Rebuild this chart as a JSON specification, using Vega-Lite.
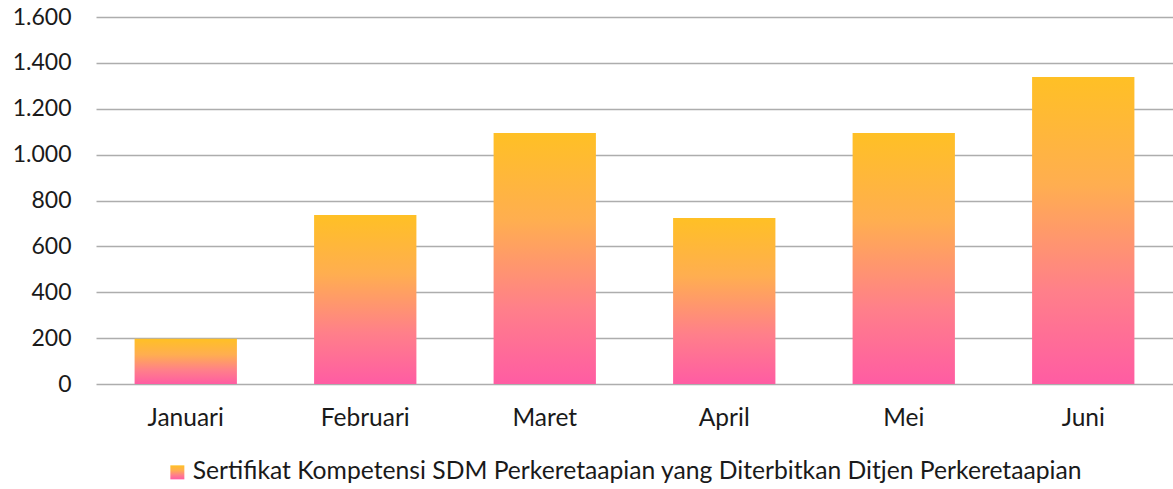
{
  "$schema": "https://vega.github.io/schema/vega-lite/v6.json",
  "width": 1077,
  "height": 367,
  "autosize": {"type": "none"},
  "padding": {"left": 96, "top": 17, "right": 0, "bottom": 105},
  "background": "white",
  "data": {
    "values": [
      {"bulan": "Januari", "jumlah": 197, "seri": "Sertifikat Kompetensi SDM Perkeretaapian yang Diterbitkan Ditjen Perkeretaapian"},
      {"bulan": "Februari", "jumlah": 737, "seri": "Sertifikat Kompetensi SDM Perkeretaapian yang Diterbitkan Ditjen Perkeretaapian"},
      {"bulan": "Maret", "jumlah": 1094, "seri": "Sertifikat Kompetensi SDM Perkeretaapian yang Diterbitkan Ditjen Perkeretaapian"},
      {"bulan": "April", "jumlah": 724, "seri": "Sertifikat Kompetensi SDM Perkeretaapian yang Diterbitkan Ditjen Perkeretaapian"},
      {"bulan": "Mei", "jumlah": 1094, "seri": "Sertifikat Kompetensi SDM Perkeretaapian yang Diterbitkan Ditjen Perkeretaapian"},
      {"bulan": "Juni", "jumlah": 1338, "seri": "Sertifikat Kompetensi SDM Perkeretaapian yang Diterbitkan Ditjen Perkeretaapian"}
    ]
  },
  "mark": {
    "type": "bar",
    "color": {
      "gradient": "linear",
      "x1": 0, "y1": 0, "x2": 0, "y2": 1,
      "stops": [
        {"offset": 0, "color": "#FFC025"},
        {"offset": 0.35, "color": "#FFAE50"},
        {"offset": 0.7, "color": "#FF7F8A"},
        {"offset": 1, "color": "#FF5CA3"}
      ]
    }
  },
  "encoding": {
    "x": {
      "field": "bulan",
      "type": "nominal",
      "sort": null,
      "title": null,
      "scale": {"paddingInner": 0.43, "paddingOuter": 0.215},
      "axis": {
        "domain": false,
        "ticks": false,
        "labelAngle": 0,
        "labelFont": "Lato",
        "labelFontSize": 24.5,
        "labelColor": "#1a1a1a",
        "labelPadding": 34,
        "labelBaseline": "middle"
      }
    },
    "y": {
      "field": "jumlah",
      "type": "quantitative",
      "title": null,
      "scale": {"domain": [0, 1600], "nice": false},
      "axis": {
        "values": [0, 200, 400, 600, 800, 1000, 1200, 1400, 1600],
        "labelExpr": "replace(format(datum.value, ','), ',', '.')",
        "domain": false,
        "ticks": false,
        "grid": true,
        "gridColor": "#ADADAD",
        "gridWidth": 1.5,
        "labelFont": "Lato",
        "labelFontSize": 23,
        "labelColor": "#1a1a1a",
        "labelPadding": 25
      }
    },
    "opacity": {
      "field": "seri",
      "type": "nominal",
      "title": null,
      "scale": {"range": [1]},
      "legend": {
        "orient": "none",
        "legendX": 69,
        "legendY": 443,
        "direction": "horizontal",
        "symbolType": "square",
        "symbolSize": 196,
        "symbolStrokeWidth": 0,
        "labelFont": "Lato",
        "labelFontSize": 24.7,
        "labelColor": "#1a1a1a",
        "labelLimit": 1200,
        "labelOffset": 3,
        "encode": {
          "symbols": {
            "update": {
              "fill": {
                "value": {
                  "gradient": "linear",
                  "x1": 0, "y1": 0, "x2": 0, "y2": 1,
                  "stops": [
                    {"offset": 0, "color": "#FFC025"},
                    {"offset": 0.35, "color": "#FFAE50"},
                    {"offset": 0.7, "color": "#FF7F8A"},
                    {"offset": 1, "color": "#FF5CA3"}
                  ]
                }
              },
              "opacity": {"value": 1}
            }
          }
        }
      }
    }
  },
  "config": {
    "view": {"stroke": null},
    "font": "Lato"
  }
}
